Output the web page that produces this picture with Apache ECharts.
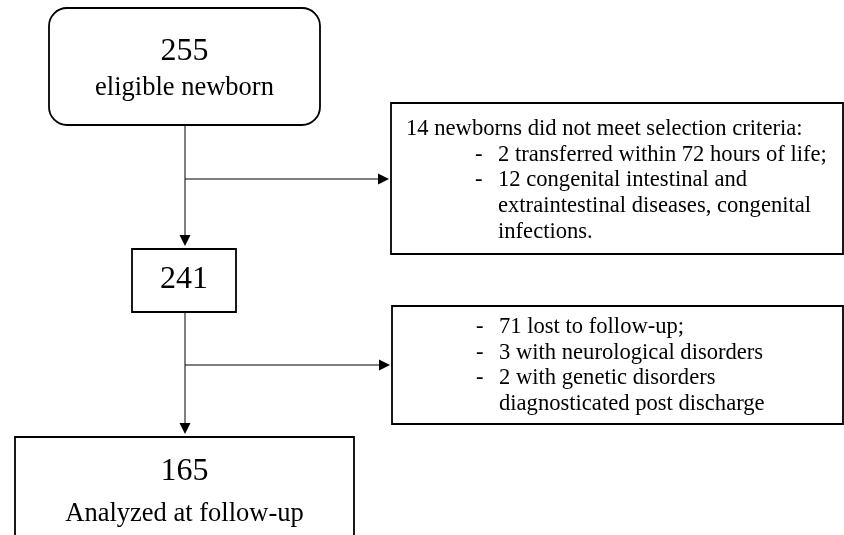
<!DOCTYPE html>
<html>
<head>
<meta charset="utf-8">
<script src="https://cdn.jsdelivr.net/npm/echarts@6/dist/echarts.min.js"></script>
<style>
  html, body { margin: 0; padding: 0; background: #fff; }
  #chart { width: 844px; height: 535px; }
</style>
</head>
<body>
<div id="chart"></div>
<script>
  // flow data
  const stageCounts = [255, 241, 165]
  const stageLabels = ['eligible newborn', '', 'Analyzed at follow-up']
  const exclusionHeaders = ['14 newborns did not meet selection criteria:', '']
  const exclusionItems = [
    ['2 transferred within 72 hours of life;', '12 congenital intestinal and\nextraintestinal diseases, congenital\ninfections.'],
    ['71 lost to follow-up;', '3 with neurological disorders', '2 with genetic disorders\ndiagnosticated post discharge']
  ]

  // layout, in page pixels (mapped through hidden value axes)
  const W = 844
  const H = 535
  const stageBoxes = [[49, 8, 320, 125], [132, 249, 236, 312], [15, 437, 354, 560]]
  const stageRadius = [18, 0, 0]
  const numberY = [52, 280, 472]
  const labelY = [88, 0, 514]
  const sideBoxes = [[391, 103, 843, 254], [392, 306, 843, 424]]
  const firstRowY = [129, 327]
  const rowH = 25.7
  const spineX = 185
  const branchY = [179, 365]

  const serif = "'Liberation Serif', 'Times New Roman', serif"

  function arrowDown(api, x, tip) {
    const a = api.coord([x - 5.5, tip - 11]), b = api.coord([x + 5.5, tip - 11]), c = api.coord([x, tip])
    return { type: 'polygon', shape: { points: [a, b, c] }, style: { fill: '#000' } }
  }
  function arrowRight(api, tip, y) {
    const a = api.coord([tip - 11, y - 5.5]), b = api.coord([tip - 11, y + 5.5]), c = api.coord([tip, y])
    return { type: 'polygon', shape: { points: [a, b, c] }, style: { fill: '#000' } }
  }
  function seg(api, x1, y1, x2, y2) {
    const p = api.coord([x1, y1]), q = api.coord([x2, y2])
    return { type: 'line', shape: { x1: p[0], y1: p[1], x2: q[0], y2: q[1] }, style: { stroke: '#000', lineWidth: 1 } }
  }

  function renderStage(params, api) {
    const i = params.dataIndex
    const b = stageBoxes[i]
    const p = api.coord([b[0], b[1]]), q = api.coord([b[2], b[3]])
    const cx = (p[0] + q[0]) / 2
    const children = [{
      type: 'rect',
      shape: { x: p[0], y: p[1], width: q[0] - p[0], height: q[1] - p[1], r: stageRadius[i] },
      style: { fill: '#fff', stroke: '#000', lineWidth: 1.8 }
    }, {
      type: 'text',
      style: {
        text: String(api.value(1)), x: cx, y: api.coord([0, numberY[i]])[1],
        align: 'center', verticalAlign: 'middle', font: '32px ' + serif, fill: '#000'
      }
    }]
    if (stageLabels[i]) {
      children.push({
        type: 'text',
        style: {
          text: stageLabels[i], x: cx, y: api.coord([0, labelY[i]])[1],
          align: 'center', verticalAlign: 'middle', font: '26.5px ' + serif, fill: '#000'
        }
      })
    }
    return { type: 'group', children: children }
  }

  function renderSide(params, api) {
    const i = params.dataIndex
    const b = sideBoxes[i]
    const p = api.coord([b[0], b[1]]), q = api.coord([b[2], b[3]])
    const children = [{
      type: 'rect',
      shape: { x: p[0], y: p[1], width: q[0] - p[0], height: q[1] - p[1] },
      style: { fill: '#fff', stroke: '#000', lineWidth: 1.8 }
    }]
    let row = 0
    const font = '22.6px ' + serif
    if (exclusionHeaders[i]) {
      children.push({
        type: 'text',
        style: { text: exclusionHeaders[i], x: p[0] + 15, y: firstRowY[i], align: 'left', verticalAlign: 'middle', font: font, fill: '#000' }
      })
      row++
    }
    exclusionItems[i].forEach(function (item) {
      const lines = item.split('\n')
      const y = api.coord([0, firstRowY[i] + row * rowH])[1]
      children.push({
        type: 'text',
        style: { text: '-', x: p[0] + 84, y: y, align: 'left', verticalAlign: 'middle', font: font, fill: '#000' }
      })
      lines.forEach(function (line, k) {
        children.push({
          type: 'text',
          style: { text: line, x: p[0] + 107, y: y + k * rowH, align: 'left', verticalAlign: 'middle', font: font, fill: '#000' }
        })
      })
      row += lines.length
    })
    return { type: 'group', children: children }
  }

  function renderLinks(params, api) {
    const children = []
    for (let i = 0; i < 2; i++) {
      const from = stageBoxes[i][3]
      const to = stageBoxes[i + 1][1] - 3
      children.push(seg(api, spineX, from, spineX, to - 10))
      children.push(arrowDown(api, spineX, to))
      const tip = sideBoxes[i][0] - 2
      children.push(seg(api, spineX, branchY[i], tip - 10, branchY[i]))
      children.push(arrowRight(api, tip, branchY[i]))
    }
    return { type: 'group', children: children }
  }

  const chart = echarts.init(document.getElementById('chart'))
  chart.setOption({
    animation: false,
    backgroundColor: '#fff',
    grid: { left: 0, right: 0, top: 0, bottom: 0 },
    xAxis: { type: 'value', min: 0, max: W, show: false },
    yAxis: { type: 'value', min: 0, max: H, inverse: true, show: false },
    series: [
      {
        type: 'custom',
        renderItem: renderLinks,
        data: [[0, 0]],
        silent: true
      },
      {
        type: 'custom',
        renderItem: renderStage,
        data: stageCounts.map(function (v, i) { return [i, v] }),
        silent: true
      },
      {
        type: 'custom',
        renderItem: renderSide,
        data: sideBoxes.map(function (b, i) { return [i, i] }),
        silent: true
      }
    ]
  })
</script>
</body>
</html>
